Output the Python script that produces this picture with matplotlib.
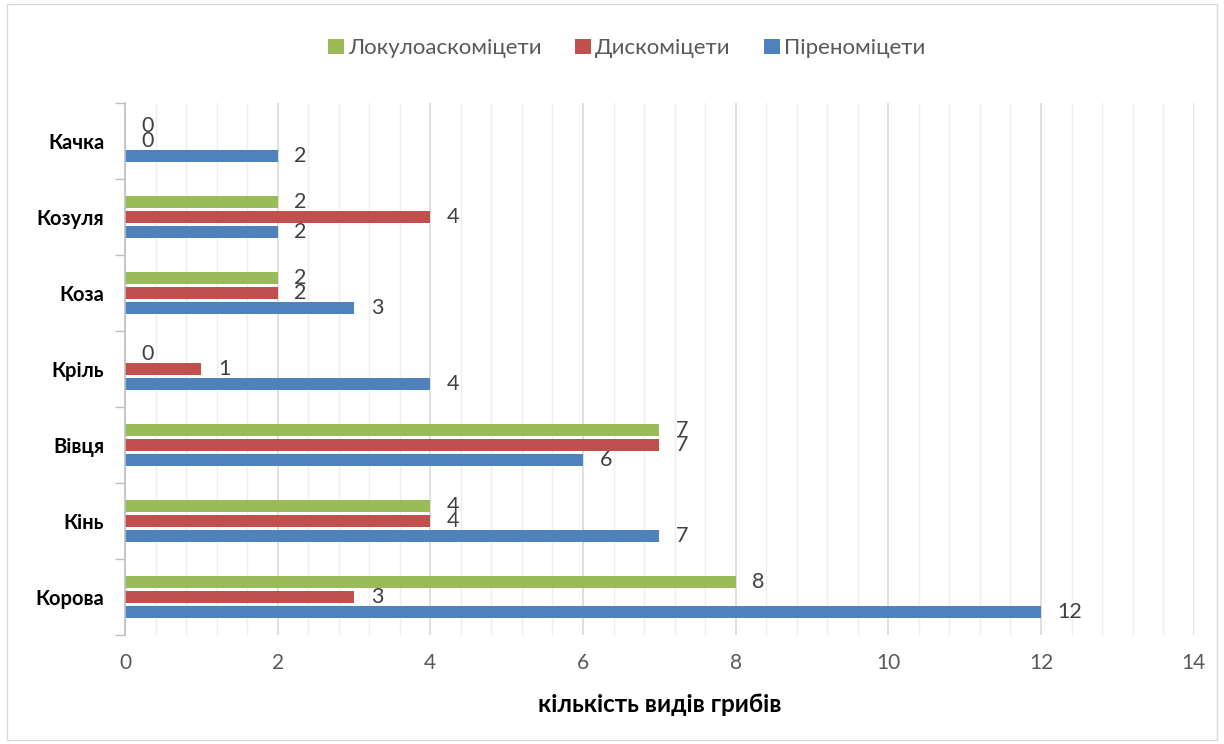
import matplotlib
matplotlib.use('Agg')
import matplotlib.pyplot as plt
import numpy as np
from matplotlib.patches import Rectangle
from matplotlib.ticker import MultipleLocator, FixedLocator, NullFormatter

plt.rcParams['font.family'] = ['Lato', 'DejaVu Sans']

animals = ['Корова', 'Кінь', 'Вівця', 'Кріль', 'Коза', 'Козуля', 'Качка']
pyreno = [12, 7, 6, 4, 3, 2, 2]
disco = [3, 4, 7, 1, 2, 4, 0]
loculo = [8, 4, 7, 0, 2, 2, 0]

c_blue = '#4F81BD'
c_red = '#C0504D'
c_green = '#9BBB59'
txt = '#404040'

fig = plt.figure(figsize=(12.24, 7.44), dpi=100)
ax = fig.add_axes([0.1021, 0.1465, 0.8731, 0.7151])

y = np.arange(len(animals))
step = 0.197
h = 0.16
b1 = ax.barh(y - step, pyreno, height=h, color=c_blue, label='Піреноміцети')
b2 = ax.barh(y, disco, height=h, color=c_red, label='Дискоміцети')
b3 = ax.barh(y + step, loculo, height=h, color=c_green, label='Локулоаскоміцети')
for b in (b1, b2, b3):
    ax.bar_label(b, padding=12, fontsize=15.5, color=txt)

ax.set_xlim(0, 14)
ax.set_ylim(-0.5, len(animals) - 0.5)
ax.xaxis.set_major_locator(MultipleLocator(2))
ax.xaxis.set_minor_locator(MultipleLocator(0.4))
ax.grid(axis='x', which='major', color='#D9D9D9', linewidth=1.2)
ax.grid(axis='x', which='minor', color='#EEEEEE', linewidth=1.0)
ax.set_axisbelow(True)

ax.set_yticks(y)
ax.set_yticklabels(animals, fontsize=14.5, fontweight='bold', color='black')
ax.yaxis.set_minor_locator(FixedLocator(np.arange(-0.5, len(animals), 1.0)))
ax.yaxis.set_minor_formatter(NullFormatter())
ax.tick_params(axis='y', which='major', length=0, pad=15)
ax.tick_params(axis='y', which='minor', length=7, color='#BFBFBF', width=1)
ax.tick_params(axis='x', which='both', length=0, pad=13, labelsize=15, labelcolor='#595959')

for s in ('top', 'right', 'bottom'):
    ax.spines[s].set_visible(False)
ax.spines['left'].set_color('#BFBFBF')
ax.spines['left'].set_linewidth(1.2)

ax.set_xlabel('кількість видів грибів', fontsize=17.5, fontweight='bold', color='black', labelpad=14)

handles = [b3, b2, b1]
fig.legend(handles, [hd.get_label() for hd in handles], loc='center', bbox_to_anchor=(0.512, 0.935),
           ncol=3, frameon=False, fontsize=16, handlelength=0.7, handleheight=0.7,
           handletextpad=0.2, columnspacing=1.5, labelcolor='#595959')

fig.patches.append(Rectangle((0.006, 0.006), 0.988, 0.988, transform=fig.transFigure,
                             fill=False, edgecolor='#D9D9D9', linewidth=1))

fig.savefig('out.png', dpi=100)
